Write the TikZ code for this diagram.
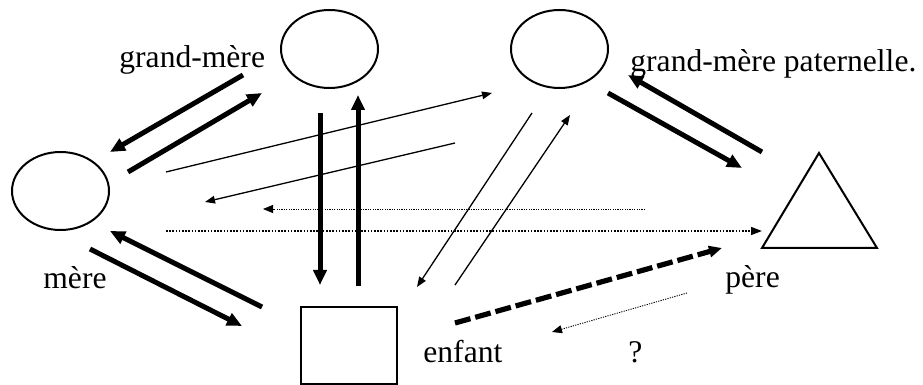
\documentclass[tikz,border=0pt]{standalone}
\usepackage{fontspec}
\setmainfont{Liberation Serif}
\usetikzlibrary{shapes.geometric,arrows.meta}

\begin{document}
\begin{tikzpicture}[x=0.5pt, y=-0.5pt,
  every node/.style={font=\fontsize{15.8}{18}\selectfont, inner sep=0pt},
  person/.style={draw, line width=1pt, ellipse, minimum width=48.5pt, minimum height=39pt},
  kid/.style={draw, line width=1pt, rectangle, minimum width=48pt, minimum height=38.5pt},
  label/.style={anchor=base west},
  strong/.style={line width=2.5pt, -{Triangle[length=7.5pt, width=6.5pt]}},
  weak/.style={line width=0.65pt, -{Triangle[length=5pt, width=3.8pt]}},
  faint/.style={line width=0.45pt, dash pattern=on 0.6pt off 0.6pt, -{Triangle[length=5pt, width=4pt]}},
  hint/.style={line width=0.8pt, dash pattern=on 0.8pt off 0.8pt, -{Triangle[length=5.5pt, width=4pt]}},
  doubt/.style={line width=2.6pt, dash pattern=on 8pt off 2.5pt, -{Triangle[length=6.5pt, width=5.5pt]}}]
  \useasboundingbox (0,0) rectangle (923,385);

  % Family members
  \node[person] (GrandMere) at (329.5,49) {};
  \node[person] (GrandMereP) at (559.5,49) {};
  \node[person] (Mere) at (60.5,191) {};
  \node[kid] (Enfant) at (349,345.5) {};
  \coordinate (PereTop) at (819,153);
  \coordinate (PereLeft) at (762,248);
  \coordinate (PereRight) at (877,248);
  \draw[line width=1pt, line join=miter] (PereTop) -- (PereLeft) -- (PereRight) -- cycle;

  % Labels
  \node[label] (LblGM) at (119,68) {grand-mère};
  \node[label] (LblGMP) at (630,72) {grand-mère paternelle.};
  \node[label] (LblMere) at (43,289) {mère};
  \node[label] (LblPere) at (725,288) {père};
  \node[label] (LblEnfant) at (423,363) {enfant};
  \node[label] (LblDoute) at (628,363) {?};

  % Arrow ends
  \coordinate (gmA) at (243,75);   \coordinate (mA) at (110,152);
  \coordinate (mB) at (128,172);   \coordinate (gmB) at (262,93);
  \coordinate (gmC) at (320,113);  \coordinate (eC) at (320,285);
  \coordinate (eD) at (358,286);   \coordinate (gmD) at (358,95);
  \coordinate (eE) at (262,307);   \coordinate (mE) at (110,231);
  \coordinate (mF) at (90,249);    \coordinate (eF) at (242,326);
  \coordinate (pG) at (762,152);   \coordinate (gpG) at (628,75);
  \coordinate (gpH) at (608,93);   \coordinate (pH) at (742,168);
  \coordinate (mI) at (166,172);   \coordinate (gpI) at (492,93);
  \coordinate (gpJ) at (455,143);  \coordinate (mJ) at (205,202);
  \coordinate (gpK) at (532,113);  \coordinate (eK) at (417,287);
  \coordinate (eL) at (455,285);   \coordinate (gpL) at (570,115);
  \coordinate (pM) at (645,209);   \coordinate (mM) at (263,209);
  \coordinate (mN) at (166,231);   \coordinate (pN) at (762,231);
  \coordinate (pO) at (687,293);   \coordinate (eO) at (552,332);
  \coordinate (eP) at (455,323);   \coordinate (pP) at (722,248);

  % Relationships
  \draw[strong] (gmA) -- (mA);
  \draw[strong] (mB) -- (gmB);
  \draw[strong] (gmC) -- (eC);
  \draw[strong] (eD) -- (gmD);
  \draw[strong] (eE) -- (mE);
  \draw[strong] (mF) -- (eF);
  \draw[strong] (pG) -- (gpG);
  \draw[strong] (gpH) -- (pH);
  \draw[weak] (mI) -- (gpI);
  \draw[weak] (gpJ) -- (mJ);
  \draw[weak] (gpK) -- (eK);
  \draw[weak] (eL) -- (gpL);
  \draw[faint] (pM) -- (mM);
  \draw[hint] (mN) -- (pN);
  \draw[faint] (pO) -- (eO);
  \draw[doubt] (eP) -- (pP);
\end{tikzpicture}
\end{document}
